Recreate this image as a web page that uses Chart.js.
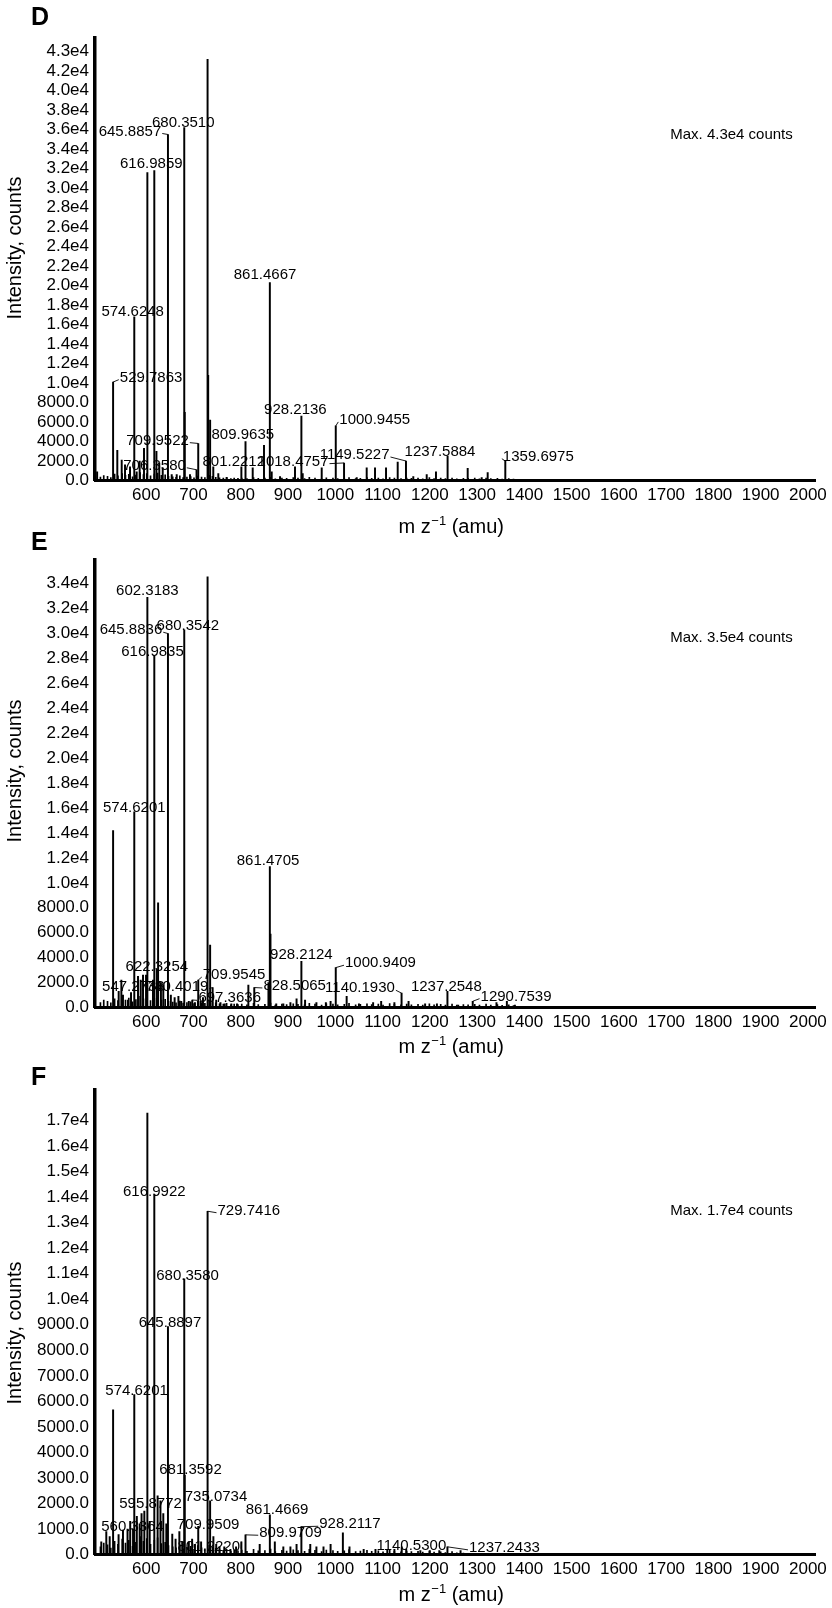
<!DOCTYPE html>
<html><head><meta charset="utf-8">
<script src="https://cdn.jsdelivr.net/npm/chart.js@4.4.1/dist/chart.umd.min.js"></script>
<style>
html,body{margin:0;padding:0;background:#fff;}
body{width:832px;height:1608px;position:relative;overflow:hidden;}
canvas{position:absolute;left:0;}
</style></head><body>
<canvas id="cD" width="832" height="545" style="top:0px;width:832px;height:545px"></canvas>
<canvas id="cE" width="832" height="545" style="top:525px;width:832px;height:545px"></canvas>
<canvas id="cF" width="832" height="548" style="top:1060px;width:832px;height:548px"></canvas>
<script>
// ---------- data ----------
const xTicks = [600,700,800,900,1000,1100,1200,1300,1400,1500,1600,1700,1800,1900,2000];

const yTicksD = [0,2000,4000,6000,8000,10000,12000,14000,16000,18000,20000,22000,24000,26000,28000,30000,32000,34000,36000,38000,40000,42000,43000];
const yTicksE = [0,2000,4000,6000,8000,10000,12000,14000,16000,18000,20000,22000,24000,26000,28000,30000,32000,34000];
const yTicksF = [0,1000,2000,3000,4000,5000,6000,7000,8000,9000,10000,11000,12000,13000,14000,15000,16000,17000];

const maxD = 43000, maxE = 35000, maxF = 17000;

// Panel D peaks (m/z, counts)
const mzD = [496,529.7863,538.7,548,555,565.6,574.6248,579.7,586,595.2,602.3,616.9859,621.5,627.5,634.8,645.8857,653.8,664.4,680.3510,681.4,692.5,706.3580,709.9522,729.7,731.0,735.1,741.8,752.4,770.2,801.2212,809.9635,825.2,849.1,861.4667,865.4,883,914.7,928.2136,931,971.2,1000.9455,1018.4757,1045.3,1066.4,1084,1107.3,1132,1149.5227,1165,1193.4,1213,1237.5884,1280.1,1309.7,1322.4,1359.6975];
const intD = [900,10100,3100,2100,1600,1400,16800,900,2000,3300,31600,31800,3000,1800,1300,35500,600,600,36200,7000,600,1100,3800,43200,10800,6200,1400,700,300,1400,4000,1300,3600,20300,900,400,1400,6600,700,1300,5600,1800,300,1300,1300,1300,1900,2000,400,600,900,2500,1250,300,800,2000];
const labelsD = ['645.8857','680.3510','616.9859','574.6248','529.7863','861.4667','928.2136','1000.9455','809.9635','709.9522','706.3580','801.2212','1018.4757','1149.5227','1237.5884','1359.6975'];

// Panel E peaks
const mzE = [529.8,541.6,547.2738,550.7,561.3,567.7,574.6201,582.5,588.2,593.1,599.5,602.3183,614.2,616.9835,622.3254,625.0,631,636,645.8836,652,660,668,674,680.3542,690,697.3636,703,709.9545,715,720,729.7,735.1,740.4019,748,757,766,780,792,816,828.5065,858.5,861.4705,862.8,875,890,905,918,928.2124,936,960,980,990,1000.9409,1024,1050,1080,1097,1125,1140.1930,1155,1190,1215,1237.2548,1260,1290.7539,1341,1363,1380];
const intE = [14200,1300,2200,1000,600,1200,15700,2500,2200,2600,2600,32900,2200,28200,3000,8400,2000,1800,30000,1000,800,900,500,30300,500,600,400,2200,500,800,34550,5000,1600,600,400,300,300,300,1800,1600,2000,11300,5900,300,300,400,700,3700,600,400,400,500,3200,900,300,400,500,400,1150,500,300,300,1300,200,500,400,500,200];
const labelsE = ['602.3183','645.8836','680.3542','616.9835','574.6201','861.4705','622.3254','547.2738','740.4019','709.9545','697.3636','828.5065','928.2124','1000.9409','1140.1930','1237.2548','1290.7539'];

// Panel F peaks
const mzF = [504.8,515.4,522.6,529.8,541.4,550.7,560.3364,566,572,574.6201,580,586,590,595.8772,602.3,607.2,616.9922,624,630,636,642.4,645.8897,655,662,670,676,680.3580,681.3592,690,697,703,709.9509,716,729.7416,735.0734,742,748,755,765,778,790,801.2220,809.9709,840,861.4669,872,890,905,918,928.2117,947,960,975,990,1016,1030,1060,1085,1110,1125,1140.5300,1150,1180,1200,1220,1237.2433,1265];
const intF = [500,900,700,5670,780,960,1000,1300,1000,6270,1500,1200,1600,1700,17300,1300,14100,2300,2100,1600,1200,8930,800,600,900,500,10800,3100,500,600,400,1100,500,13450,2100,700,400,300,300,200,300,500,770,400,1550,500,300,300,400,1090,400,300,300,400,850,300,200,200,200,200,300,200,150,150,150,300,150];
const labelsF = ['616.9922','645.8897','680.3580','729.7416','574.6201','595.8772','681.3592','735.0734','709.9509','560.3364','801.2220','809.9709','861.4669','928.2117','1140.5300','1237.2433'];

// Baseline (small, unlabeled) signals
const noiseMz = [503,510,518,525,533,540,549,556,563,571,578,587,594,601,609,617,624,632,640,647,656,663,671,678,686,694,701,709,717,724,733,740,747,755,763,770,779,786,794,
802,813,827,837,851,863,873,887,897,911,921,935,945,957,971,981,995,1005,1019,1029,1043,1053,1067,1077,1091,1101,1115,1125,1139,1151,1161,1175,1185,1199,1209,1223,1233,1247,1257,1271,1281,1295,1305,1319,1329,1343,1353,1367,1377,1389];
const noiseD = [350,500,420,300,650,480,700,520,640,380,560,820,600,720,480,660,760,520,580,430,380,330,470,290,360,410,280,460,340,300,520,420,330,280,240,320,190,260,210,
260,190,310,220,240,330,180,260,210,290,240,190,320,250,180,280,260,200,240,310,190,230,290,210,260,180,300,240,190,260,210,250,180,290,200,240,190,260,170,230,210,240,180,260,190,220,150,200,140,90];
const noiseE = [400,600,500,380,700,560,820,600,760,450,640,900,700,800,560,740,850,600,650,500,430,380,520,350,400,450,320,500,380,340,560,460,380,300,270,340,220,280,230,
280,210,330,240,260,350,200,280,230,300,260,210,340,270,200,300,280,220,260,330,210,250,300,230,270,200,310,250,210,270,220,260,200,300,220,250,200,270,190,240,220,250,190,270,200,230,170,210,150,100];
const noiseF = [300,450,380,250,520,400,600,450,560,320,480,700,520,620,400,560,650,430,480,350,300,260,380,220,280,320,200,350,260,220,380,300,240,190,160,200,130,170,140,
170,120,200,140,150,210,110,160,130,180,150,120,200,160,110,170,150,120,140,190,110,130,160,120,140,100,160,120,100,130,110,120,90,130,90,100,80,110,70,60,40,30,0,0,0,0,0,0,0,0];

// ---------- styling / layout ----------
const FAMILY = '"Liberation Sans", Arial, Helvetica, sans-serif';
Chart.defaults.font.family = FAMILY;

// label offsets from the peak top [dx, dy, leader]
const posD = [[-38,-3,1],[-1,-5,0],[-3,-6.5,0],[-1.6,-5.2,0],[38,-4.4,1],[-4.8,-7.8,0],[-6,-6,0],[39,-6,1],[-2.7,-6.5,0],[-40.7,-2.8,1],[-42,-4,1],[-7.6,-5.2,0],[-51,-1.3,1],[-51.4,-6,1],[-7.6,-4.5,0],[33,-4.3,1]];
const posE = [[0,-6.2,0],[-37,-3.3,1],[3.6,-4.3,0],[-1.8,-4.1,0],[0,-4.3,0],[-1.8,-5.8,0],[0,-3.5,0],[12,6.6,0],[-35.6,-0.9,1],[35.8,-5,1],[37.4,-1.7,1],[40.4,-1.6,1],[0,-6.4,0],[44.7,-4.4,1],[-41.6,-4.9,1],[-1.1,-4.6,0],[43.3,-4.6,1]];
const posF = [[0,-2.3,0],[2,-3.5,0],[3.3,-3.1,0],[41.2,-0.5,1],[2.3,-3.3,0],[6.2,-6.9,0],[5.8,-6,0],[5.9,-4.3,0],[9.8,-1.5,0],[5,-2.3,0],[-32.6,5,1],[45,-1.6,1],[7.2,-5,0],[48.6,-2.4,1],[9.6,-1.2,0],[57,1,1]];

function fmtY(v){ return v >= 10000 ? (v/10000).toFixed(1) + 'e4' : v.toFixed(1); }

const textPlugin = {
  id: 'spectrumText',
  afterDraw(chart, args, o) {
    const {ctx, scales} = chart;
    const xs = scales.x, ys = scales.y;
    ctx.save();
    ctx.fillStyle = '#000';
    ctx.strokeStyle = '#000';
    // panel letter
    ctx.font = 'bold 25px ' + FAMILY;
    ctx.textAlign = 'left'; ctx.textBaseline = 'alphabetic';
    ctx.fillText(o.letter, 31, o.letterBase);
    // y title
    ctx.font = '20px ' + FAMILY;
    ctx.save();
    ctx.translate(15, o.yTitleY); ctx.rotate(-Math.PI/2);
    ctx.textAlign = 'center'; ctx.textBaseline = 'middle';
    ctx.fillText('Intensity, counts', 0, 0);
    ctx.restore();
    // x title: m z^-1 (amu)
    const p1 = 'm z', p2 = '\u22121', p3 = ' (amu)';
    ctx.font = '20px ' + FAMILY;
    const w1 = ctx.measureText(p1).width, w3 = ctx.measureText(p3).width;
    ctx.font = '13px ' + FAMILY;
    const w2 = ctx.measureText(p2).width;
    let sx = 451 - (w1 + w2 + w3) / 2;
    ctx.textAlign = 'left'; ctx.textBaseline = 'alphabetic';
    ctx.font = '20px ' + FAMILY; ctx.fillText(p1, sx, o.xTitleBase); sx += w1;
    ctx.font = '13px ' + FAMILY; ctx.fillText(p2, sx + 0.5, o.xTitleBase - 8); sx += w2 + 0.5;
    ctx.font = '20px ' + FAMILY; ctx.fillText(p3, sx, o.xTitleBase);
    // max label
    ctx.font = '15px ' + FAMILY;
    ctx.textAlign = 'center'; ctx.textBaseline = 'middle';
    ctx.fillText('Max. ' + fmtY(o.max) + ' counts', 731.5, o.maxY);
    // peak labels
    ctx.lineWidth = 0.9;
    o.labels.forEach((txt, i) => {
      const v = parseFloat(txt);
      const k = o.mz.findIndex(m => Math.abs(m - v) < 1e-6);
      if (k < 0) return;
      const px = xs.getPixelForValue(v), py = ys.getPixelForValue(o.inten[k]);
      const [dx, dy, lead] = o.pos[i];
      const cx = px + dx, cy = py + dy;
      ctx.fillText(txt, cx, cy);
      if (lead) {
        const w = ctx.measureText(txt).width;
        const ex = dx > 0 ? cx - w/2 - 1 : cx + w/2 + 1;
        ctx.beginPath(); ctx.moveTo(px, py); ctx.lineTo(ex, cy + 2); ctx.stroke();
      }
    });
    ctx.restore();
  }
};

function buildChart(id, p) {
  return new Chart(document.getElementById(id), {
    type: 'bar',
    data: { datasets: [
      { data: p.mz.map((m, i) => ({x: m, y: p.inten[i]})), backgroundColor: '#000', barThickness: 1.3, grouped: false },
      { data: noiseMz.map((m, i) => ({x: m, y: p.noise[i]})), backgroundColor: '#000', barThickness: 1, grouped: false }
    ]},
    options: {
      responsive: false, animation: false, devicePixelRatio: 1, events: [],
      layout: { padding: { top: p.top, right: 17, left: 0, bottom: 0 } },
      plugins: {
        legend: { display: false }, tooltip: { enabled: false },
        spectrumText: { letter: p.letter, letterBase: 25, yTitleY: p.yTitleY, xTitleBase: p.xTitleBase,
          max: p.max, maxY: p.maxY, labels: p.labels, pos: p.pos, mz: p.mz, inten: p.inten }
      },
      scales: {
        x: {
          type: 'linear', min: 491.5, max: 2015, offset: false, bounds: 'data',
          grid: { display: true, color: 'rgba(0,0,0,0)', drawTicks: false },
          border: { display: true, color: '#000', width: 3 },
          ticks: { font: { size: 17, family: FAMILY }, color: '#000', padding: 5, autoSkip: false, maxRotation: 0,
                   callback: v => String(v) },
          afterBuildTicks: s => { s.ticks = xTicks.map(v => ({value: v})); },
          afterFit: s => { s.height = p.xAxisH; s.paddingLeft = 0; s.paddingRight = 0; }
        },
        y: {
          type: 'linear', min: 0, max: p.yMax, bounds: 'data',
          grid: { display: true, color: 'rgba(0,0,0,0)', drawTicks: false },
          border: { display: true, color: '#000', width: 3.5 },
          ticks: { font: { size: 17, family: FAMILY }, color: '#000', padding: 6, autoSkip: false,
                   callback: v => (v % p.yStep !== 0 ? [fmtY(v), ''] : fmtY(v)) },
          afterBuildTicks: s => { s.ticks = p.yTicks.map(v => ({value: v})); },
          afterFit: s => { s.width = 95; s.paddingTop = 0; s.paddingBottom = 0; }
        }
      }
    },
    plugins: [textPlugin]
  });
}

buildChart('cD', { letter: 'D', mz: mzD, inten: intD, noise: noiseD, labels: labelsD, pos: posD,
  yTicks: yTicksD, yStep: 2000, yMax: 45400, max: maxD, top: 38, xAxisH: 64.5,
  yTitleY: 248, xTitleBase: 533, maxY: 135 });
buildChart('cE', { letter: 'E', mz: mzE, inten: intE, noise: noiseE, labels: labelsE, pos: posE,
  yTicks: yTicksE, yStep: 2000, yMax: 35900, max: maxE, top: 35, xAxisH: 62.5,
  yTitleY: 246, xTitleBase: 528, maxY: 113 });
buildChart('cF', { letter: 'F', mz: mzF, inten: intF, noise: noiseF, labels: labelsF, pos: posF,
  yTicks: yTicksF, yStep: 1000, yMax: 18200, max: maxF, top: 30, xAxisH: 53.5,
  yTitleY: 273, xTitleBase: 541, maxY: 151 });
</script>
</body></html>
